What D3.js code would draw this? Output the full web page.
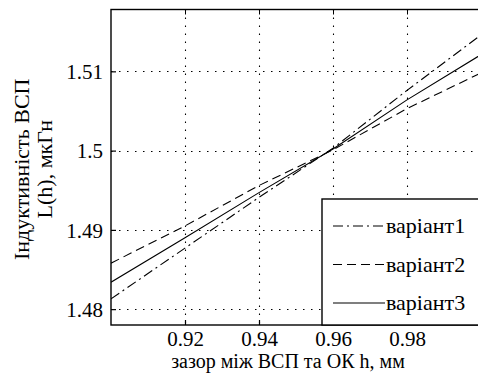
<!DOCTYPE html>
<html>
<head>
<meta charset="utf-8">
<script src="https://cdn.jsdelivr.net/npm/d3@7"></script>
<style>
  body { margin: 0; background: #fff; }
  svg { display: block; }
</style>
</head>
<body>
<div id="chart"></div>
<script>
(function() {
	// data
	var gap = [0.9, 0.92, 0.94, 0.96, 0.98, 1.0];
	var variant1 = [1.4813, 1.4877, 1.4941, 1.5003, 1.5076, 1.5146];
	var variant2 = [1.4858, 1.4905, 1.4956, 1.5001, 1.5053, 1.5098];
	var variant3 = [1.4834, 1.4890, 1.4947, 1.5002, 1.5064, 1.5121];
	var seriesNames = ["варіант1", "варіант2", "варіант3"];
	var xTicks = [0.92, 0.94, 0.96, 0.98];
	var yTicks = [1.48, 1.49, 1.5, 1.51];

	var width = 478;
	var height = 381;
	var left = 111, top = 9.5, right = 481, bottom = 325;
	var serif = "Liberation Serif";

	var svg = d3.select("#chart")
		.append("svg")
		.attr("width", width)
		.attr("height", height)
		.attr("font-family", serif);

	var x = d3.scaleLinear().domain([0.9, 1.0]).range([left, right]);
	var y = d3.scaleLinear().domain([1.478, 1.5178]).range([bottom, top]);

	svg.append("clipPath").attr("id", "plotClip")
		.append("rect")
		.attr("x", left).attr("y", top)
		.attr("width", right - left).attr("height", bottom - top);

	// dotted grid
	var grid = svg.append("g").attr("stroke", "#000").attr("stroke-width", 1.1)
		.attr("stroke-dasharray", "1.5,6.5");
	grid.selectAll("line.v").data(xTicks).enter().append("line")
		.attr("x1", function(d) { return Math.round(x(d)) + 0.5; })
		.attr("x2", function(d) { return Math.round(x(d)) + 0.5; })
		.attr("y1", top).attr("y2", bottom);
	grid.selectAll("line.h").data(yTicks).enter().append("line")
		.attr("y1", function(d) { return Math.round(y(d)) + 0.5; })
		.attr("y2", function(d) { return Math.round(y(d)) + 0.5; })
		.attr("x1", left).attr("x2", right);

	// lines
	var styles = ["10,4,2,4", "9,5", null];
	var allSeries = [variant1, variant2, variant3];
	var line = d3.line()
		.x(function(d, i) { return x(gap[i]); })
		.y(function(d) { return y(d); });
	var lines = svg.append("g").attr("clip-path", "url(#plotClip)");
	allSeries.forEach(function(s, i) {
		lines.append("path")
			.datum(s)
			.attr("fill", "none")
			.attr("stroke", "#000")
			.attr("stroke-width", 1.1)
			.attr("stroke-dasharray", styles[i])
			.attr("d", line);
	});

	// axes box with inward ticks
	var xAxis = d3.axisBottom(x).tickValues(xTicks).tickSize(-5).tickPadding(7)
		.tickFormat(d3.format(".2f"));
	var yAxis = d3.axisLeft(y).tickValues(yTicks).tickSize(-5).tickPadding(8)
		.tickFormat(function(d) { return d === 1.5 ? "1.5" : d3.format(".2f")(d); });

	var gx = svg.append("g").attr("transform", "translate(0," + bottom + ")").call(xAxis);
	var gy = svg.append("g").attr("transform", "translate(" + left + ",0)").call(yAxis);
	[gx, gy].forEach(function(g) {
		g.attr("font-family", serif).attr("font-size", 21);
		g.select(".domain").remove();
		g.selectAll("text").attr("font-family", serif).attr("font-size", 21).attr("fill", "#000");
		g.selectAll("line").attr("stroke", "#000").attr("stroke-width", 1.2);
	});
	gx.selectAll("text").attr("dy", "14px");
	gy.selectAll("text").attr("dy", "0.34em");

	svg.append("g").attr("transform", "translate(0," + top + ")")
		.call(d3.axisTop(x).tickValues(xTicks).tickSize(-5).tickFormat(""))
		.call(function(g) { g.select(".domain").remove(); g.selectAll("line").attr("stroke", "#000"); });

	svg.append("rect")
		.attr("x", left).attr("y", top)
		.attr("width", right - left).attr("height", bottom - top)
		.attr("fill", "none").attr("stroke", "#000").attr("stroke-width", 1.4);

	// legend
	var legend = svg.append("g");
	legend.append("rect")
		.attr("x", 322).attr("y", 199).attr("width", 170).attr("height", bottom - 199)
		.attr("fill", "#fff").attr("stroke", "#000").attr("stroke-width", 1.4);
	seriesNames.forEach(function(name, i) {
		var ly = 226 + i * 38.5;
		legend.append("line")
			.attr("x1", 333).attr("x2", 385).attr("y1", ly).attr("y2", ly)
			.attr("stroke", "#000").attr("stroke-width", 1.1)
			.attr("stroke-dasharray", styles[i]);
		legend.append("text")
			.attr("x", 386).attr("y", ly).attr("dy", "0.32em")
			.attr("font-family", serif)
			.attr("font-size", 22)
			.text(name);
	});

	// axis labels
	svg.append("text")
		.attr("x", 288).attr("y", 368)
		.attr("text-anchor", "middle")
		.attr("font-family", serif)
		.attr("font-size", 20)
		.text("зазор між ВСП та ОК h, мм");

	var yl = svg.append("text")
		.attr("transform", "translate(29," + ((top + bottom) / 2 + 2) + ") rotate(-90)")
		.attr("text-anchor", "middle")
		.attr("font-family", serif)
		.attr("font-size", 22);
	yl.append("tspan").attr("x", 0).attr("y", 0).text("Індуктивність ВСП");
	yl.append("tspan").attr("x", 0).attr("y", 23).text("L(h), мкГн");
})();
</script>
</body>
</html>
